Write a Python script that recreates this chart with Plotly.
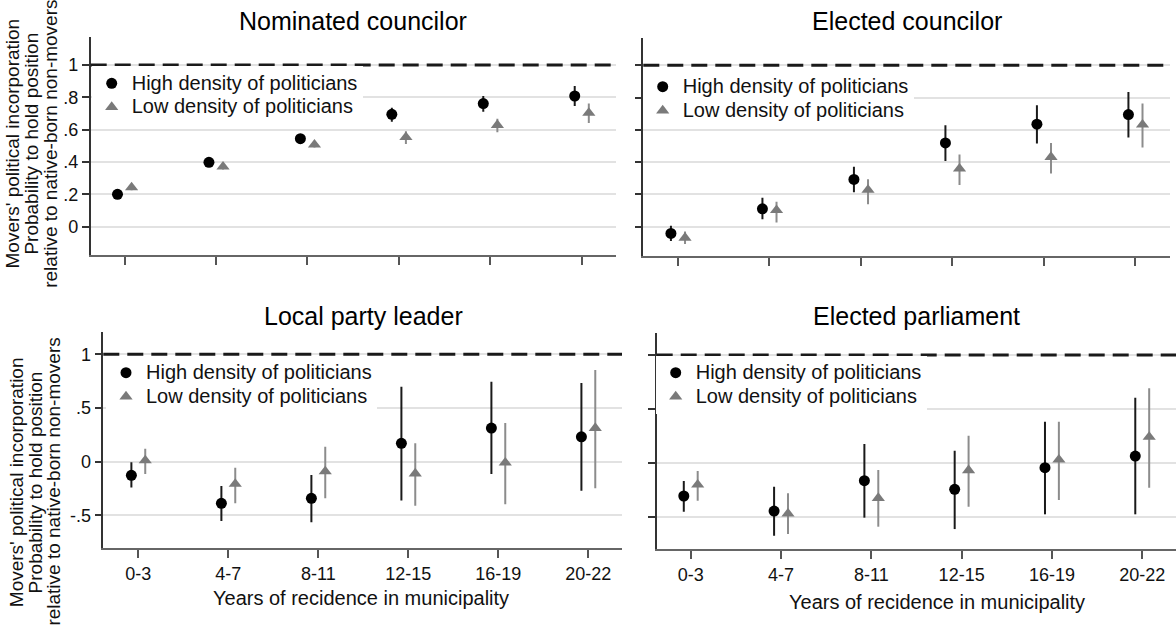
import numpy as np
import plotly.graph_objects as go

# ---------------- data ----------------
categories = ["0-3", "4-7", "8-11", "12-15", "16-19", "20-22"]
series_names = ["High density of politicians", "Low density of politicians"]
panel_titles = ["Nominated councilor", "Elected councilor", "Local party leader", "Elected parliament"]

nom_high = [0.200, 0.398, 0.544, 0.695, 0.761, 0.808]
nom_high_lo = [0.180, 0.378, 0.524, 0.649, 0.711, 0.746]
nom_high_hi = [0.220, 0.418, 0.564, 0.736, 0.808, 0.870]
nom_low = [0.243, 0.371, 0.507, 0.553, 0.628, 0.703]
nom_low_lo = [0.225, 0.353, 0.489, 0.511, 0.584, 0.641]
nom_low_hi = [0.261, 0.389, 0.525, 0.590, 0.668, 0.762]

ele_high = [-0.041, 0.111, 0.293, 0.519, 0.635, 0.695]
ele_high_lo = [-0.088, 0.046, 0.213, 0.408, 0.516, 0.553]
ele_high_hi = [0.006, 0.180, 0.371, 0.629, 0.753, 0.835]
ele_low = [-0.068, 0.103, 0.228, 0.360, 0.432, 0.632]
ele_low_lo = [-0.107, 0.027, 0.140, 0.258, 0.330, 0.491]
ele_low_hi = [-0.030, 0.155, 0.295, 0.448, 0.519, 0.763]

lpl_high = [-0.127, -0.387, -0.341, 0.171, 0.313, 0.232]
lpl_high_lo = [-0.241, -0.551, -0.564, -0.362, -0.114, -0.270]
lpl_high_hi = [-0.006, -0.226, -0.124, 0.697, 0.744, 0.734]
lpl_low = [0.012, -0.207, -0.090, -0.110, -0.009, 0.313]
lpl_low_lo = [-0.114, -0.387, -0.341, -0.409, -0.396, -0.247]
lpl_low_hi = [0.121, -0.055, 0.139, 0.171, 0.360, 0.853]

par_high = [-0.309, -0.449, -0.167, -0.247, -0.046, 0.062]
par_high_lo = [-0.455, -0.678, -0.510, -0.616, -0.479, -0.479]
par_high_hi = [-0.170, -0.223, 0.174, 0.111, 0.381, 0.604]
par_low = [-0.204, -0.473, -0.328, -0.071, 0.028, 0.239]
par_low_lo = [-0.353, -0.662, -0.594, -0.409, -0.346, -0.232]
par_low_hi = [-0.077, -0.284, -0.068, 0.251, 0.381, 0.691]

ytick_top_vals = [0, 0.2, 0.4, 0.6, 0.8, 1]
ytick_top_text = ["0", ".2", ".4", ".6", ".8", "1"]
ytick_bot_vals = [-0.5, 0, 0.5, 1]
ytick_bot_text = ["-.5", "0", ".5", "1"]

ytitle_lines = ["Movers' political incorporation",
                "Probability to hold position",
                "relative to native-born non-movers"]
xtitle = "Years of recidence in municipality"

# ---------------- figure ----------------
W, H = 1176, 629
FONT = "Liberation Sans, Arial, sans-serif"
fig = go.Figure()

panels = [
    (nom_high, nom_high_lo, nom_high_hi, nom_low, nom_low_lo, nom_low_hi),
    (ele_high, ele_high_lo, ele_high_hi, ele_low, ele_low_lo, ele_low_hi),
    (lpl_high, lpl_high_lo, lpl_high_hi, lpl_low, lpl_low_lo, lpl_low_hi),
    (par_high, par_high_lo, par_high_hi, par_low, par_low_lo, par_low_hi),
]

idx = np.arange(len(categories))
OFF = 0.077
for k, (h, hl, hh, l, ll, lh) in enumerate(panels):
    sfx = "" if k == 0 else str(k + 1)
    leg = "legend" if k == 0 else "legend%d" % (k + 1)
    h, hl, hh, l, ll, lh = map(np.array, (h, hl, hh, l, ll, lh))
    fig.add_trace(go.Scatter(
        x=idx - OFF, y=h, mode="markers",
        name='<span style="font-size:20px">%s</span>' % series_names[0],
        legend=leg, xaxis="x" + sfx, yaxis="y" + sfx,
        marker=dict(symbol="circle", size=11, color="#000000"),
        error_y=dict(type="data", symmetric=False, array=hh - h, arrayminus=h - hl,
                     width=0, thickness=2, color="#1a1a1a"),
    ))
    fig.add_trace(go.Scatter(
        x=idx + OFF, y=l, mode="markers",
        name='<span style="font-size:20px">%s</span>' % series_names[1],
        legend=leg, xaxis="x" + sfx, yaxis="y" + sfx,
        marker=dict(symbol="triangle-up", size=11.5, color="#7a7a7a"),
        error_y=dict(type="data", symmetric=False, array=lh - l, arrayminus=l - ll,
                     width=0, thickness=2, color="#8c8c8c"),
    ))

xdoms = [(90.7, 615.6), (643.3, 1169.5), (103.3, 622.0), (656.7, 1176.0)]
ydoms = [(37.3, 255.3), (38.3, 256.0), (332.3, 548.3), (333.3, 549.0)]
xranges = [(-0.370, 5.370), (-0.379, 5.372), (-0.389, 5.374), (-0.377, 5.374)]
yranges = [(-0.177, 1.171), (-0.181, 1.167), (-0.806, 1.205), (-0.801, 1.2015)]

layout = dict(
    width=W, height=H, margin=dict(l=0, r=0, t=0, b=0),
    paper_bgcolor="white", plot_bgcolor="white",
    font=dict(family=FONT, color="#111111"),
    showlegend=True,
)
for k in range(4):
    sfx = "" if k == 0 else str(k + 1)
    xd, yd = xdoms[k], ydoms[k]
    bottom = k >= 2
    left = k % 2 == 0
    layout["xaxis" + sfx] = dict(
        domain=[xd[0] / W, xd[1] / W], anchor="y" + sfx, range=list(xranges[k]),
        tickvals=list(idx), ticktext=categories, showticklabels=bottom,
        ticks="outside", ticklen=8, tickwidth=1.5, tickcolor="#555555",
        showline=True, linecolor="#666666", linewidth=2,
        showgrid=False, zeroline=False, fixedrange=True,
        tickfont=dict(size=18, color="#111111", family=FONT),
    )
    layout["yaxis" + sfx] = dict(
        domain=[1 - yd[1] / H, 1 - yd[0] / H], anchor="x" + sfx, range=list(yranges[k]),
        tickvals=ytick_bot_vals if bottom else ytick_top_vals,
        ticktext=ytick_bot_text if bottom else ytick_top_text,
        showticklabels=left,
        ticks="outside", ticklen=7, tickwidth=1.5, tickcolor="#333333",
        showline=True, linecolor="#333333", linewidth=1.5,
        showgrid=True, gridcolor="#e2e2e2", gridwidth=1.7, zeroline=False, fixedrange=True,
        tickfont=dict(size=18, color="#111111", family=FONT),
    )

# legends (symbol centre sits 20px right of legend's left edge)
leg_pos = [(91.7, 66.4), (642.7, 69.8), (106.0, 355.8), (655.7, 355.8)]
for k, (lx, ly) in enumerate(leg_pos):
    name = "legend" if k == 0 else "legend%d" % (k + 1)
    layout[name] = dict(
        x=lx / W, y=1 - ly / H, xanchor="left", yanchor="top",
        bgcolor="white", borderwidth=0,
        font=dict(size=16, color="#111111", family=FONT),
        itemclick=False, itemdoubleclick=False,
    )

fig.update_layout(**layout)

# dashed reference line at 1
for k in range(4):
    sfx = "" if k == 0 else str(k + 1)
    fig.add_shape(type="line", xref="x%s domain" % sfx, yref="y" + sfx,
                  x0=0, x1=1, y0=1, y1=1,
                  line=dict(color="#1a1a1a", width=3, dash="16px,8px"))

# panel titles
title_pos = [(352.5, 20.5), (906.6, 20.8), (363.0, 315.8), (916.9, 316.3)]
for t, (tx, ty) in zip(panel_titles, title_pos):
    fig.add_annotation(text=t, x=tx / W, y=1 - ty / H, xref="paper", yref="paper",
                       xanchor="center", yanchor="middle", showarrow=False,
                       font=dict(size=25, color="#000000", family=FONT))

# y-axis titles (three lines each, left panels)
for xs, yc in [((11.5, 30.6, 49.8), 144.0), ((17.2, 36.4, 53.6), 482.0)]:
    for line, lx in zip(ytitle_lines, xs):
        fig.add_annotation(text=line, x=lx / W, y=1 - yc / H, xref="paper", yref="paper",
                           xanchor="center", yanchor="middle", showarrow=False, textangle=-90,
                           font=dict(size=19, color="#111111", family=FONT))

# x-axis titles (bottom panels)
for tx, ty in [(360.7, 598.3), (936.7, 601.7)]:
    fig.add_annotation(text=xtitle, x=tx / W, y=1 - ty / H, xref="paper", yref="paper",
                       xanchor="center", yanchor="middle", showarrow=False,
                       font=dict(size=20, color="#111111", family=FONT))

fig.write_html("out.html",
               config={"displayModeBar": False, "staticPlot": False},
               post_script="document.body.style.margin='0';document.body.style.padding='0';")
